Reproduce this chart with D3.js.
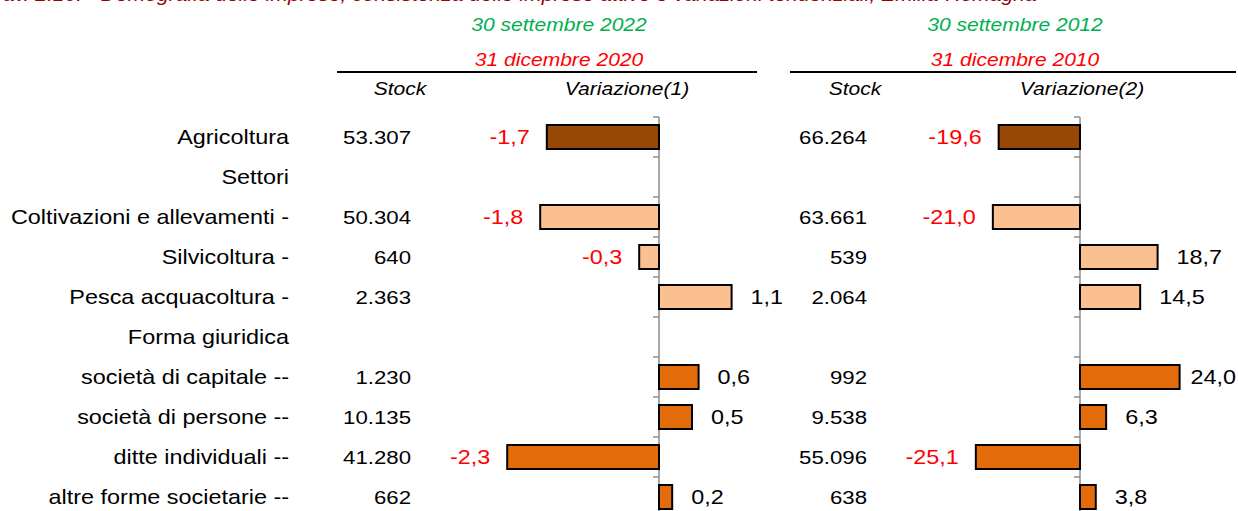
<!DOCTYPE html>
<html>
<head>
<meta charset="utf-8">
<script src="https://cdn.jsdelivr.net/npm/d3@7"></script>
<style>
  html, body { margin: 0; padding: 0; background: #fff; overflow: hidden; }
  svg text { font-family: "Liberation Sans", Arial, sans-serif; }
</style>
</head>
<body>
<svg id="chart" width="1238" height="511"></svg>
<script>
// data
var categories = ['Agricoltura', 'Settori', 'Coltivazioni e allevamenti -', 'Silvicoltura -',
  'Pesca acquacoltura -', 'Forma giuridica', 'società di capitale --', 'società di persone --',
  'ditte individuali --', 'altre forme societarie --']
var groups = ['totale', null, 'settore', 'settore', 'settore', null, 'forma', 'forma', 'forma', 'forma']
var stock2022 = [53307, null, 50304, 640, 2363, null, 1230, 10135, 41280, 662]
var var2022 = [-1.7, null, -1.8, -0.3, 1.1, null, 0.6, 0.5, -2.3, 0.2]
var stock2012 = [66264, null, 63661, 539, 2064, null, 992, 9538, 55096, 638]
var var2012 = [-19.6, null, -21.0, 18.7, 14.5, null, 24.0, 6.3, -25.1, 3.8]
var titleText = 'Tav. 2.10. - Demografia delle imprese, consistenza delle imprese attive e variazioni tendenziali, Emilia-Romagna'
var periods = [
  { green: '30 settembre 2022', red: '31 dicembre 2020', varLabel: 'Variazione(1)' },
  { green: '30 settembre 2012', red: '31 dicembre 2010', varLabel: 'Variazione(2)' }
]

//
// setup
//
var SX = 1.17   // the source picture is stretched horizontally
var W = 1238
var svg = d3.select('#chart')
var it = d3.formatLocale({ decimal: ',', thousands: '.', grouping: [3], currency: ['€', ''], minus: '-' })
var fmtStock = it.format(',d')
var fmtVar = it.format('.1f')
var colors = { totale: '#974706', settore: '#FAC090', forma: '#E46C0A' }

var y = d3.scaleBand()
  .domain(d3.range(categories.length))
  .range([117, 517])
  .paddingInner(0.4)
  .paddingOuter(0.2)

var x1 = d3.scaleLinear().domain([-3, 3]).range([461, 857])
var x2 = d3.scaleLinear().domain([-30, 30]).range([955.5, 1204.5])

function txt(g, x, yy, s, anchor, size, color, italic) {
  return g.append('text')
    .attr('transform', 'translate(' + x + ',' + yy + ') scale(' + SX + ',1)')
    .attr('text-anchor', anchor)
    .style('font-size', size + 'px')
    .style('font-style', italic ? 'italic' : 'normal')
    .attr('fill', color)
    .text(s)
}

// title (cut off at the top in the source)
txt(svg, -8, 1, titleText, 'start', 18, '#990000', true)

// column headers
var headers = [
  { cx: 559, stockX: 400, varX: 627, line: [337, 757] },
  { cx: 1015, stockX: 855, varX: 1082, line: [790, 1236] }
]
headers.forEach(function(h, i) {
  txt(svg, h.cx, 31, periods[i].green, 'middle', 18, '#00B050', true)
  txt(svg, h.cx, 66, periods[i].red, 'middle', 18, '#FF0000', true)
  svg.append('line')
    .attr('x1', h.line[0]).attr('x2', h.line[1])
    .attr('y1', 72).attr('y2', 72)
    .attr('stroke', '#000').attr('stroke-width', 2)
  txt(svg, h.stockX, 95, 'Stock', 'middle', 18, '#000', true)
  txt(svg, h.varX, 95, periods[i].varLabel, 'middle', 18, '#000', true)
})

// category labels
var mid = function(i) { return y(i) + y.bandwidth() / 2 }
categories.forEach(function(c, i) {
  txt(svg, 289, mid(i) + 7, c, 'end', 20, '#000', false)
})

function panel(x, stock, vals, stockRight) {
  var g = svg.append('g')
  var step = y.step(), gap = (step - y.bandwidth()) / 2

  // axis line and ticks
  g.append('line')
    .attr('x1', x(0)).attr('x2', x(0))
    .attr('y1', y(0) - gap).attr('y2', 520)
    .attr('stroke', '#8c8c8c').attr('stroke-width', 1.5)
  g.selectAll('.tick').data(d3.range(categories.length)).enter().append('line')
    .attr('x1', x(0) - 6).attr('x2', x(0))
    .attr('y1', function(i) { return y(i) - gap })
    .attr('y2', function(i) { return y(i) - gap })
    .attr('stroke', '#8c8c8c').attr('stroke-width', 1.5)

  var rows = d3.range(categories.length).filter(function(i) { return vals[i] != null })

  g.selectAll('.bar').data(rows).enter().append('rect')
    .attr('x', function(i) { return Math.min(x(0), x(vals[i])) })
    .attr('width', function(i) { return Math.abs(x(vals[i]) - x(0)) })
    .attr('y', function(i) { return y(i) })
    .attr('height', y.bandwidth())
    .attr('fill', function(i) { return colors[groups[i]] })
    .attr('stroke', '#000').attr('stroke-width', 2)

  rows.forEach(function(i) {
    var v = vals[i]
    if (v < 0) {
      txt(g, x(v) - 17, mid(i) + 7, fmtVar(v), 'end', 20, '#FF0000', false)
    } else {
      var t = txt(g, x(v) + 19, mid(i) + 7, fmtVar(v), 'start', 20, '#000', false)
      // keep labels inside the picture, as the source does
      var w = t.node().getComputedTextLength() * SX
      var lx = Math.min(x(v) + 19, W - 2 - w)
      t.attr('transform', 'translate(' + lx + ',' + (mid(i) + 7) + ') scale(' + SX + ',1)')
    }
    txt(g, stockRight, mid(i) + 7, fmtStock(stock[i]), 'end', 19, '#000', false)
  })
}

panel(x1, stock2022, var2022, 411)
panel(x2, stock2012, var2012, 867)
</script>
</body>
</html>
